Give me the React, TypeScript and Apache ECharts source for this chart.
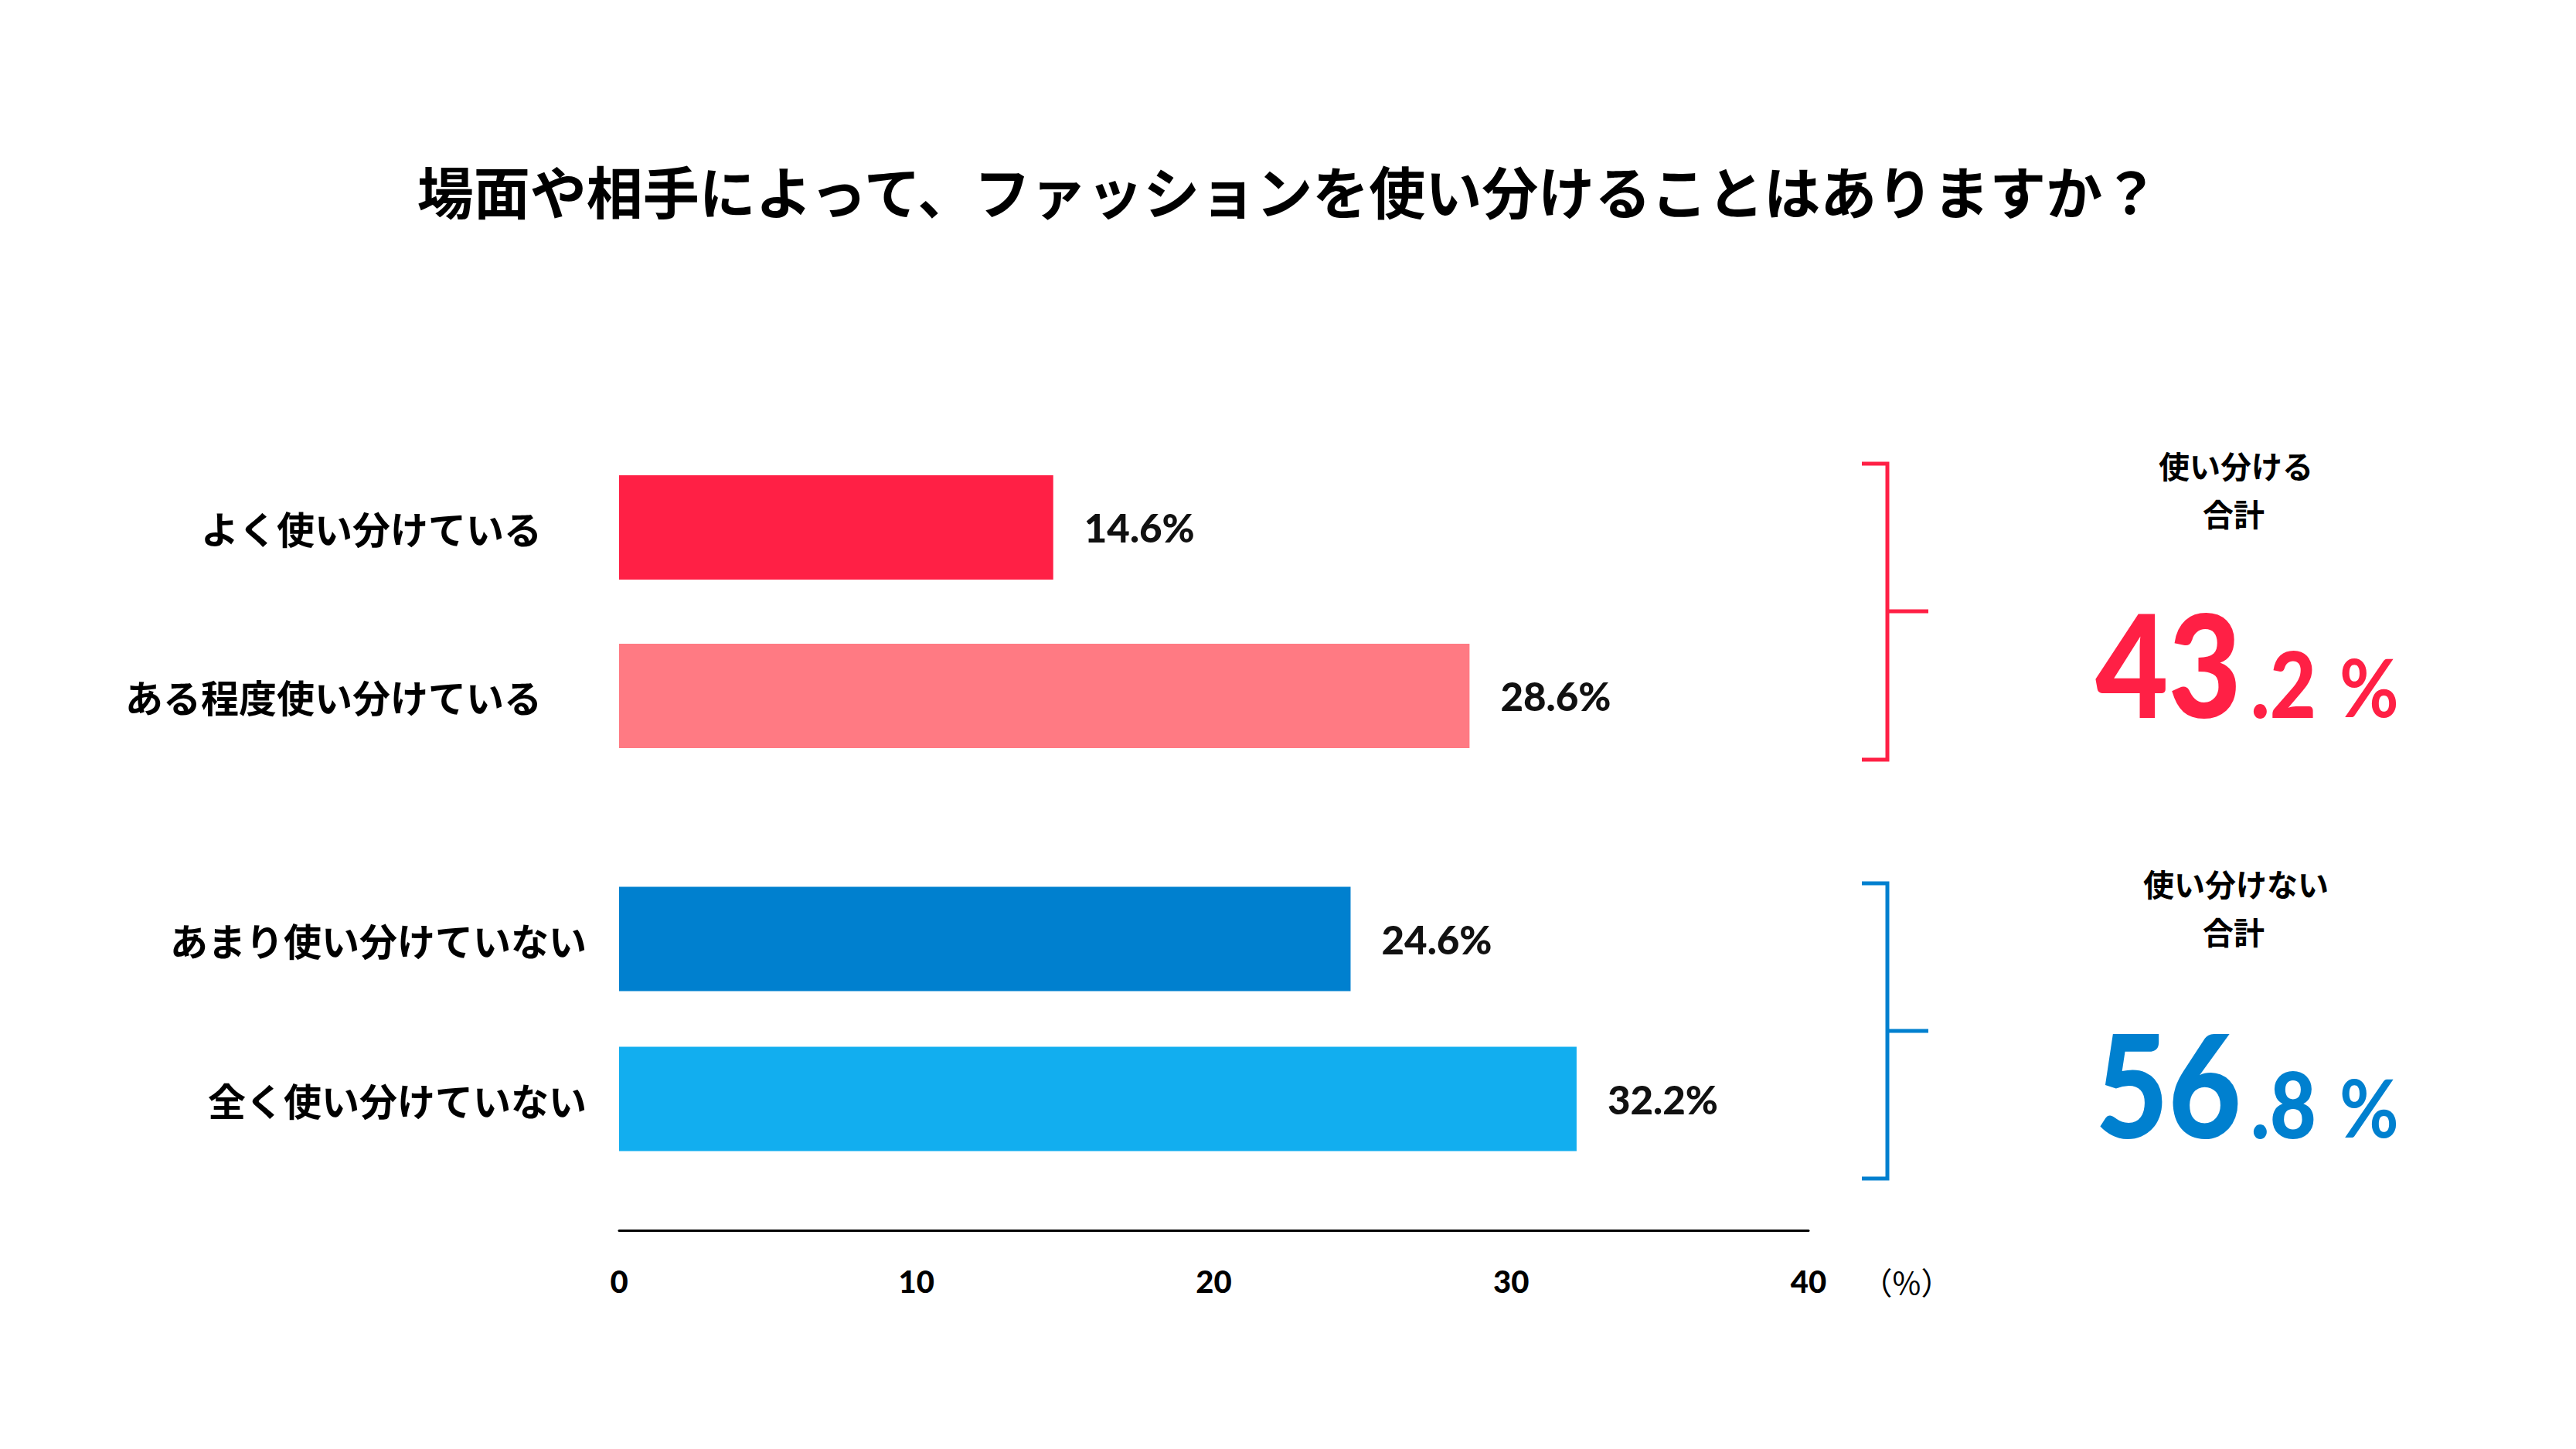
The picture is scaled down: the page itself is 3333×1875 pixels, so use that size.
import React, { useEffect, useRef } from 'react';
import * as echarts from 'echarts';

const W = 3333;
const H = 1875;

const chartTitle = '場面や相手によって、ファッションを使い分けることはありますか？';
const useCategories = ['よく使い分けている', 'ある程度使い分けている'];
const useValues = [14.6, 28.6];
const notUseCategories = ['あまり使い分けていない', '全く使い分けていない'];
const notUseValues = [24.6, 32.2];
const axisMin = 0;
const axisMax = 40;
const axisInterval = 10;
const axisUnit = '（%）';
const useTotalLabel = ['使い分ける', '合計'];
const notUseTotalLabel = ['使い分けない', '合計'];

const RED = '#FF2045';
const PINK = '#FF7A83';
const BLUE = '#0080CF';
const SKY = '#12AEEF';
const JP = '"Noto Sans CJK JP", "Noto Sans", sans-serif';
const NUM = 'Lato, "Noto Sans", sans-serif';

const sumText = (vals: number[]) => vals.reduce((a, b) => a + b, 0).toFixed(1).split('.');

// bracket + total block on the right of each group
function summary(
  color: string,
  top: number,
  bottom: number,
  mid: number,
  caption: string[],
  captionY: number,
  total: string[],
  numY: number
) {
  const bx = 2442;
  return [
    {
      type: 'polyline',
      shape: { points: [[2409, top], [bx, top], [bx, bottom], [2409, bottom]] },
      style: { stroke: color, lineWidth: 5, fill: null },
    },
    {
      type: 'line',
      shape: { x1: bx, y1: mid, x2: 2495, y2: mid },
      style: { stroke: color, lineWidth: 5 },
    },
    {
      type: 'text',
      x: 2893,
      y: captionY,
      style: { text: caption[0], fontFamily: JP, fontWeight: 'bold', fontSize: 40, fill: '#000', align: 'center', verticalAlign: 'middle' },
    },
    {
      type: 'text',
      x: 2890,
      y: captionY + 62,
      style: { text: caption[1], fontFamily: JP, fontWeight: 'bold', fontSize: 40, fill: '#000', align: 'center', verticalAlign: 'middle' },
    },
    {
      type: 'text',
      x: 2900,
      y: numY,
      scaleX: 0.88,
      style: { text: total[0], fontFamily: NUM, fontWeight: 900, fontSize: 185, fill: color, align: 'right', verticalAlign: 'middle' },
    },
    {
      type: 'text',
      x: 2912,
      y: numY + 26,
      scaleX: 0.88,
      style: { text: '.' + total[1], fontFamily: NUM, fontWeight: 900, fontSize: 118, fill: color, align: 'left', verticalAlign: 'middle' },
    },
    {
      type: 'text',
      x: 3027,
      y: numY + 31,
      scaleX: 0.9,
      style: { text: '%', fontFamily: NUM, fontWeight: 'bold', fontSize: 104, fill: color, align: 'left', verticalAlign: 'middle' },
    },
  ];
}

export default function App() {
  const ref = useRef<HTMLDivElement>(null);

  useEffect(() => {
    if (!ref.current) return;
    const chart = echarts.init(ref.current, null, { renderer: 'svg' });

    const yLabel = (margin: number) => ({
      margin,
      fontSize: 49,
      fontWeight: 'bold',
      color: '#000',
      fontFamily: JP,
    });
    const valueLabel = {
      show: true,
      position: 'right',
      distance: 40,
      formatter: '{c}%',
      fontSize: 51,
      fontWeight: 900,
      color: '#111',
      fontFamily: NUM,
    };

    chart.setOption({
      animation: false,
      backgroundColor: '#fff',
      title: {
        text: chartTitle,
        left: 'center',
        top: 203,
        textStyle: { fontFamily: JP, fontWeight: 'bold', fontSize: 73, color: '#000' },
      },
      grid: [
        { left: 801, right: 993, top: 573.5, height: 436 },
        { left: 801, right: 993, top: 1111.5, height: 414 },
      ],
      xAxis: [
        { gridIndex: 0, type: 'value', min: axisMin, max: axisMax, show: false },
        {
          gridIndex: 1,
          type: 'value',
          min: axisMin,
          max: axisMax,
          interval: axisInterval,
          offset: 67,
          axisLine: { show: true, lineStyle: { color: '#000', width: 3 } },
          axisTick: { show: false },
          splitLine: { show: false },
          axisLabel: { margin: 45, fontSize: 40, fontWeight: 900, color: '#000', fontFamily: NUM },
        },
      ],
      yAxis: [
        {
          gridIndex: 0,
          type: 'category',
          data: useCategories,
          inverse: true,
          axisLine: { show: false },
          axisTick: { show: false },
          axisLabel: yLabel(100),
        },
        {
          gridIndex: 1,
          type: 'category',
          data: notUseCategories,
          inverse: true,
          axisLine: { show: false },
          axisTick: { show: false },
          axisLabel: yLabel(42),
        },
      ],
      series: [
        {
          type: 'bar',
          xAxisIndex: 0,
          yAxisIndex: 0,
          barWidth: 135,
          data: useValues.map((v, i) => ({ value: v, itemStyle: { color: [RED, PINK][i] } })),
          label: valueLabel,
        },
        {
          type: 'bar',
          xAxisIndex: 1,
          yAxisIndex: 1,
          barWidth: 135,
          data: notUseValues.map((v, i) => ({ value: v, itemStyle: { color: [BLUE, SKY][i] } })),
          label: valueLabel,
        },
      ],
      graphic: [
        {
          type: 'text',
          x: 2467,
          y: 1658,
          style: { text: axisUnit, fontFamily: JP, fontSize: 40, fill: '#000', align: 'center', verticalAlign: 'middle' },
        },
        ...summary(RED, 600, 983, 791, useTotalLabel, 602, sumText(useValues), 857),
        ...summary(BLUE, 1143, 1525, 1334, notUseTotalLabel, 1143, sumText(notUseValues), 1401),
      ],
    });

    return () => chart.dispose();
  }, []);

  return (
    <div
      ref={ref}
      style={{ position: 'fixed', left: 0, top: 0, width: W, height: H, background: '#fff' }}
    />
  );
}
